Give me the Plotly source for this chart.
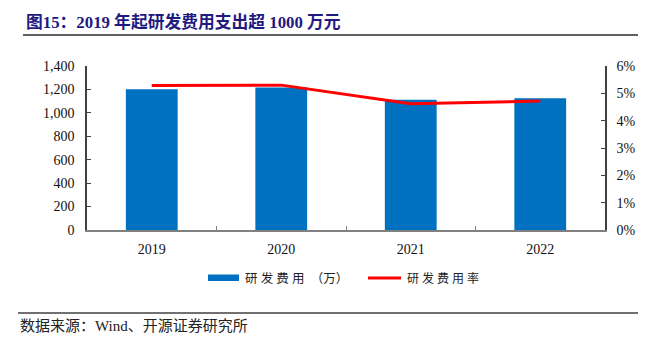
import plotly.graph_objects as go

# R&D spending (10k CNY) and R&D ratio by year
years = ["2019", "2020", "2021", "2022"]
rd_expense = [1201, 1217, 1112, 1124]
rd_ratio = [5.29, 5.30, 4.62, 4.72]

left_ticks = [0, 200, 400, 600, 800, 1000, 1200, 1400]
right_ticks = [0, 1, 2, 3, 4, 5, 6]

W, H = 659, 339
L, R, T, B = 87, 605, 66, 230  # plot area in pixels


def px(x):
    return (x - L) / (R - L)


def py(y):
    return (B - y) / (B - T)


SERIF = "Liberation Serif, Times New Roman, serif"
CJK = "Liberation Serif, Noto Sans CJK SC, serif"

fig = go.Figure()
fig.add_trace(go.Bar(
    x=years, y=rd_expense, name="研发费用（万）",
    marker=dict(color="#0070C0", line=dict(width=0)),
    width=0.4, yaxis="y", showlegend=False,
))
fig.add_trace(go.Scatter(
    x=years, y=rd_ratio, name="研发费用率", mode="lines",
    line=dict(color="#FF0000", width=3), yaxis="y2", showlegend=False,
))

axis_col = "#404040"
tick_font = dict(family=SERIF, size=14, color="#111")
fig.update_layout(
    width=W, height=H,
    margin=dict(l=L, r=W - R, t=T, b=H - B),
    plot_bgcolor="white", paper_bgcolor="white",
    xaxis=dict(
        type="category", showgrid=False, showline=True, linecolor="#808080",
        linewidth=1.5, ticks="inside", tickson="boundaries", ticklen=4,
        tickcolor="#808080", tickfont=tick_font, ticklabelstandoff=5,
    ),
    yaxis=dict(
        range=[0, 1400], tickvals=left_ticks,
        ticktext=[f"{v:,}" for v in left_ticks], showgrid=False,
        showline=True, linecolor=axis_col, linewidth=1.5, ticks="inside",
        ticklen=4, tickcolor=axis_col, zeroline=False,
        tickfont=tick_font, ticklabelstandoff=8,
    ),
    yaxis2=dict(
        range=[0, 6], tickvals=right_ticks,
        ticktext=[f"{v}%" for v in right_ticks], overlaying="y", side="right",
        showgrid=False, showline=True, linecolor=axis_col, linewidth=1.5,
        ticks="inside", ticklen=4, tickcolor=axis_col, zeroline=False,
        tickfont=tick_font, ticklabelstandoff=7,
    ),
)

shapes = [
    # title rule
    dict(type="line", xref="paper", yref="paper", x0=px(23), x1=px(638),
         y0=py(35), y1=py(35), line=dict(color="#606060", width=2)),
    # source rule
    dict(type="line", xref="paper", yref="paper", x0=px(18), x1=px(638),
         y0=py(313), y1=py(313), line=dict(color="#404040", width=1.5)),
    # legend keys
    dict(type="rect", xref="paper", yref="paper", x0=px(208), x1=px(239),
         y0=py(281), y1=py(274.5), fillcolor="#0070C0", line=dict(width=0)),
    dict(type="line", xref="paper", yref="paper", x0=px(368), x1=px(401),
         y0=py(278), y1=py(278), line=dict(color="#FF0000", width=3)),
]

annotations = [
    dict(text="<b>图15：2019 年起研发费用支出超 1000 万元</b>", xref="paper",
         yref="paper", x=px(24), y=py(22), xanchor="left", yanchor="middle",
         showarrow=False, font=dict(family=CJK, size=16.8, color="#1F1A80")),
    dict(text="研 发 费 用  （万）", xref="paper", yref="paper", x=px(243),
         y=py(278), xanchor="left", yanchor="middle", showarrow=False,
         font=dict(family=CJK, size=12.5, color="#222")),
    dict(text="研 发 费 用 率", xref="paper", yref="paper", x=px(405),
         y=py(278), xanchor="left", yanchor="middle", showarrow=False,
         font=dict(family=CJK, size=12, color="#222")),
    dict(text="数据来源：Wind、开源证券研究所", xref="paper", yref="paper",
         x=px(18), y=py(326), xanchor="left", yanchor="middle",
         showarrow=False, font=dict(family=CJK, size=15, color="#222")),
]

fig.update_layout(shapes=shapes, annotations=annotations)
fig.write_html("out.html")
